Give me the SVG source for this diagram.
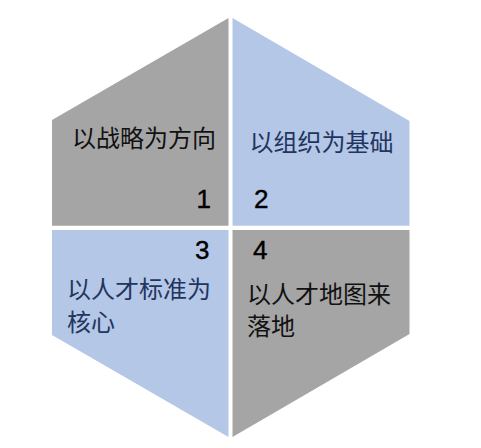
<svg xmlns="http://www.w3.org/2000/svg" width="481" height="448" viewBox="0 0 481 448">
<style>
.gray{fill:#A5A5A5}
.blue{fill:#B4C7E7}
.cjk{font-family:"Noto Sans CJK SC","Liberation Sans",sans-serif;font-size:24px}
.dk{fill:#111111}
.nv{fill:#22355E}
.num{font-family:"Liberation Sans",Arial,sans-serif;font-size:26px;fill:#000000;stroke:#000000;stroke-width:0.4}
</style>
<rect width="481" height="448" fill="#FFFFFF"/>
<g id="connectors"></g>
<g id="q1">
<polygon class="gray" points="52,120 228.5,18 228.5,225.7 52,225.7"/>
<text class="cjk dk" x="72" y="147">以战略为方向</text>
<text class="num" x="196.5" y="207.5">1</text>
</g>
<g id="q2">
<polygon class="blue" points="232.5,18 409.5,121 409.5,225.7 232.5,225.7"/>
<text class="cjk nv" x="249.5" y="150.5">以组织为基础</text>
<text class="num" x="254" y="207.5">2</text>
</g>
<g id="q3">
<polygon class="blue" points="52,230 228.5,230 228.5,437 52,335"/>
<text class="num" x="195" y="258.5">3</text>
<text class="cjk nv" x="67" y="298">以人才标准为</text>
<text class="cjk nv" x="67" y="330.5">核心</text>
</g>
<g id="q4">
<polygon class="gray" points="232.5,230 409.5,230 409.5,334 232.5,437"/>
<text class="num" x="253" y="258.5">4</text>
<text class="cjk dk" x="247" y="302.5">以人才地图来</text>
<text class="cjk dk" x="247" y="335">落地</text>
</g>
</svg>
